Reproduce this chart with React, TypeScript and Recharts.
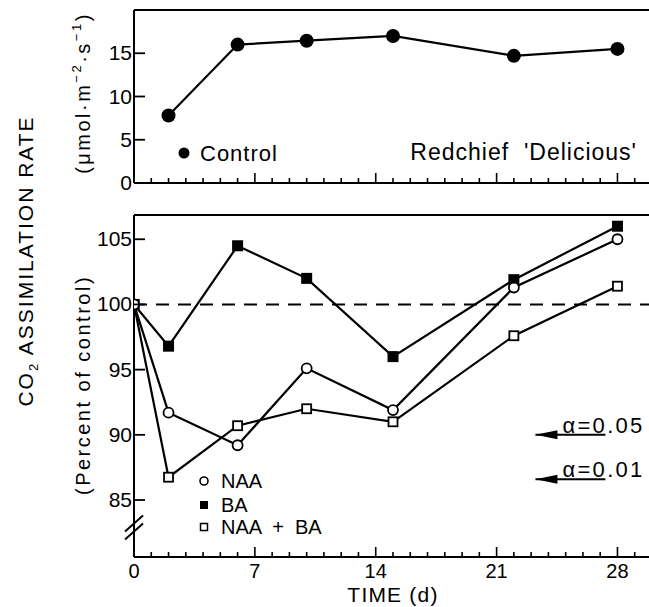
import React from 'react';
import { Legend, Line, LineChart, ReferenceDot, ReferenceLine, XAxis, YAxis } from 'recharts';

const FONT = '"Liberation Sans", Arial, Helvetica, sans-serif';

// top panel: absolute rate of the control trees
const CONTROL_DAYS = [2, 6, 10, 15, 22, 28];
const CONTROL_RATE = [7.8, 16.0, 16.45, 17.0, 14.7, 15.5];

// bottom panel: treatments as percent of control
const TREAT_DAYS = [0, 2, 6, 10, 15, 22, 28];
const NAA = [100, 91.7, 89.2, 95.1, 91.9, 101.3, 105.0];
const BA = [100, 96.8, 104.5, 102.0, 96.0, 101.9, 106.0];
const NAA_BA = [100, 86.75, 90.7, 92.0, 91.0, 97.6, 101.4];

const DAY_TICKS = [0, 1, 2, 3, 4, 5, 6, 7, 8, 9, 10, 11, 12, 13, 14, 15, 16, 17, 18, 19, 20, 21, 22, 23, 24, 25, 26, 27, 28, 29];
const DAY_LABELS = [0, 7, 14, 21, 28];
const RATE_TICKS = [0, 5, 10, 15];
const PCT_TICKS = [85, 90, 95, 100, 105];

const ALPHA_LABELS = ['α=0.05', 'α=0.01'];
const ALPHA_VALUES = [90.0, 86.6];

const X_DOMAIN = [0, 30];
const RATE_DOMAIN = [0, 20];
const PCT_DOMAIN = [80.63, 106.86];

const controlData = CONTROL_DAYS.map((day, i) => ({ day, rate: CONTROL_RATE[i] }));
const treatData = TREAT_DAYS.map((day, i) => ({ day, naa: NAA[i], ba: BA[i], naaBa: NAA_BA[i] }));

const axisLine = { stroke: '#000', strokeWidth: 2 };

function DayTick({ x, y, payload, showLabel }: any) {
  const major = DAY_LABELS.includes(payload.value);
  return (
    <g>
      <line x1={x} x2={x} y1={y} y2={y - (major ? 10 : 5)} stroke="#000" strokeWidth={1.6} />
      {showLabel && major && (
        <text x={x} y={y + 21} textAnchor="middle" fontSize={20} fontFamily={FONT} fill="#000">
          {payload.value}
        </text>
      )}
    </g>
  );
}

function ValueTick({ x, y, payload }: any) {
  return (
    <g>
      <line x1={x} x2={x + 11} y1={y} y2={y} stroke="#000" strokeWidth={1.8} />
      <text x={x - 2} y={y + 7} textAnchor="end" fontSize={21} fontFamily={FONT} fill="#000">
        {payload.value}
      </text>
    </g>
  );
}

const bigDot = (p: any) => <circle key={p.index} cx={p.cx} cy={p.cy} r={7} fill="#000" />;
const openCircle = (p: any) => (
  <circle key={p.index} cx={p.cx} cy={p.cy} r={5} fill="#fff" stroke="#000" strokeWidth={1.8} />
);
const filledSquare = (p: any) => <rect key={p.index} x={p.cx - 5.5} y={p.cy - 5.5} width={11} height={11} fill="#000" />;
const openSquare = (p: any) => (
  <rect key={p.index} x={p.cx - 4.5} y={p.cy - 4.5} width={9} height={9} fill="#fff" stroke="#000" strokeWidth={1.8} />
);

// the "//" axis break on the lower y axis
const AxisBreak = (p: any) => (
  <g stroke="#000" strokeWidth={2}>
    <line x1={p.cx - 9} y1={p.cy + 5} x2={p.cx + 9} y2={p.cy - 11} />
    <line x1={p.cx - 9} y1={p.cy + 13} x2={p.cx + 9} y2={p.cy - 3} />
  </g>
);

function alphaLabel(text: string) {
  return (props: any) => {
    const vb = props.viewBox || {};
    const x = vb.x;
    const y = vb.y;
    return (
      <g>
        <polygon points={`${x},${y} ${x + 22},${y - 4.5} ${x + 22},${y + 4.5}`} fill="#000" />
        <text x={x + 27} y={y - 2} fontSize={22} fontFamily={FONT} fill="#000" style={{ letterSpacing: 2.3 }}>
          {text}
        </text>
      </g>
    );
  };
}

function ControlLegend() {
  return (
    <svg width={120} height={32} style={{ display: 'block' }}>
      <circle cx={14} cy={18} r={5.5} fill="#000" />
      <text x={30} y={26} fontSize={22} fontFamily={FONT} fill="#000" style={{ letterSpacing: 1 }}>
        Control
      </text>
    </svg>
  );
}

function TreatLegend() {
  return (
    <svg width={170} height={76} style={{ display: 'block' }}>
      <circle cx={9} cy={16} r={4} fill="#fff" stroke="#000" strokeWidth={1.6} />
      <text x={26} y={23} fontSize={20} fontFamily={FONT} fill="#000">NAA</text>
      <rect x={5} y={36} width={8} height={8} fill="#000" />
      <text x={26} y={47} fontSize={20} fontFamily={FONT} fill="#000">BA</text>
      <rect x={5.5} y={58.5} width={7} height={7} fill="#fff" stroke="#000" strokeWidth={1.5} />
      <text x={26} y={69} fontSize={20} fontFamily={FONT} fill="#000" style={{ whiteSpace: 'pre' }}>
        NAA  +  BA
      </text>
    </svg>
  );
}

export default function App() {
  return (
    <div
      style={{
        position: 'absolute',
        left: 0,
        top: 0,
        width: 649,
        height: 607,
        overflow: 'hidden',
        background: '#fff',
        fontFamily: FONT,
      }}
    >
      <div style={{ position: 'absolute', left: 0, top: 0 }}>
        <LineChart width={652} height={200} data={controlData} margin={{ top: 10, right: 0, bottom: 0, left: 0 }}>
          <XAxis
            type="number"
            dataKey="day"
            domain={X_DOMAIN}
            ticks={DAY_TICKS}
            interval={0}
            tickSize={0}
            tickMargin={0}
            tick={<DayTick />}
            height={17}
            axisLine={axisLine}
            allowDataOverflow
          />
          <YAxis
            type="number"
            domain={RATE_DOMAIN}
            ticks={RATE_TICKS}
            interval={0}
            width={134}
            tickSize={0}
            tickMargin={0}
            tick={<ValueTick />}
            axisLine={axisLine}
            allowDataOverflow
          />
          <ReferenceLine y={RATE_DOMAIN[1]} stroke="#000" strokeWidth={2} />
          <Line
            dataKey="rate"
            stroke="#000"
            strokeWidth={2.2}
            dot={bigDot}
            activeDot={false}
            isAnimationActive={false}
          />
          <Legend
            layout="vertical"
            align="center"
            verticalAlign="middle"
            content={ControlLegend}
            wrapperStyle={{ left: 170, top: 135, width: 'auto' }}
          />
        </LineChart>
      </div>

      <div style={{ position: 'absolute', left: 0, top: 200 }}>
        <LineChart width={652} height={407} data={treatData} margin={{ top: 15, right: 0, bottom: 0, left: 0 }}>
          <XAxis
            type="number"
            dataKey="day"
            domain={X_DOMAIN}
            ticks={DAY_TICKS}
            interval={0}
            tickSize={0}
            tickMargin={0}
            tick={<DayTick showLabel />}
            height={50}
            axisLine={axisLine}
            allowDataOverflow
            label={{
              value: 'TIME (d)',
              position: 'insideBottom',
              offset: 5,
              fontSize: 21,
              fill: '#000',
              fontFamily: FONT,
              style: { letterSpacing: 1.2 },
            }}
          />
          <YAxis
            type="number"
            domain={PCT_DOMAIN}
            ticks={PCT_TICKS}
            interval={0}
            width={134}
            tickSize={0}
            tickMargin={0}
            tick={<ValueTick />}
            axisLine={axisLine}
            allowDataOverflow
          />
          <ReferenceLine y={PCT_DOMAIN[1]} stroke="#000" strokeWidth={2} />
          <ReferenceLine y={100} stroke="#000" strokeWidth={2} strokeDasharray="13 9" />
          <ReferenceDot x={0} y={82.97} shape={AxisBreak} />
          {ALPHA_VALUES.map((v, i) => (
            <ReferenceLine
              key={ALPHA_LABELS[i]}
              segment={[
                { x: 23.25, y: v },
                { x: 27.3, y: v },
              ]}
              stroke="#000"
              strokeWidth={2}
              label={alphaLabel(ALPHA_LABELS[i])}
            />
          ))}
          <Line dataKey="ba" stroke="#000" strokeWidth={2.2} dot={filledSquare} activeDot={false} isAnimationActive={false} />
          <Line dataKey="naaBa" stroke="#000" strokeWidth={2.2} dot={openSquare} activeDot={false} isAnimationActive={false} />
          <Line dataKey="naa" stroke="#000" strokeWidth={2.2} dot={openCircle} activeDot={false} isAnimationActive={false} />
          <Legend
            layout="vertical"
            align="center"
            verticalAlign="middle"
            content={TreatLegend}
            wrapperStyle={{ left: 195, top: 265, width: 'auto' }}
          />
        </LineChart>
      </div>

      <svg
        width={649}
        height={607}
        style={{ position: 'absolute', left: 0, top: 0, pointerEvents: 'none' }}
        fontFamily={FONT}
      >
        <text transform="translate(33,261) rotate(-90)" textAnchor="middle" fontSize={21} fill="#000" style={{ letterSpacing: 2 }}>
          CO
          <tspan fontSize={13} dy={5}>2</tspan>
          <tspan dy={-5}> ASSIMILATION RATE</tspan>
        </text>
        <text transform="translate(90,93) rotate(-90)" textAnchor="middle" fontSize={20} fill="#000" style={{ letterSpacing: 2.5 }}>
          (μmol·m
          <tspan fontSize={13} dy={-9}>−2</tspan>
          <tspan dy={9}>·s</tspan>
          <tspan fontSize={13} dy={-9}>−1</tspan>
          <tspan dy={9}>)</tspan>
        </text>
        <text transform="translate(90,385) rotate(-90)" textAnchor="middle" fontSize={20} fill="#000" style={{ letterSpacing: 2.5 }}>
          (Percent of control)
        </text>
        <text x={637} y={160} textAnchor="end" fontSize={23} fill="#000" style={{ whiteSpace: 'pre', letterSpacing: 1 }}>
          Redchief  'Delicious'
        </text>
      </svg>
    </div>
  );
}
